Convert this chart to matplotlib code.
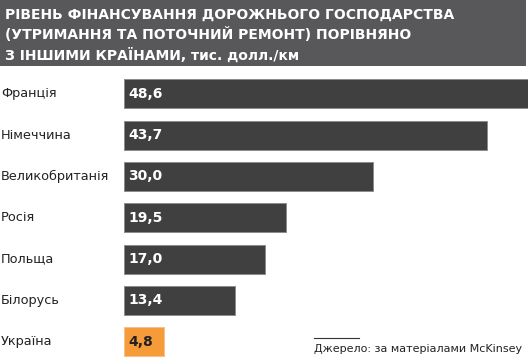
import matplotlib
matplotlib.use("Agg")
import matplotlib.pyplot as plt
from matplotlib.patches import Rectangle
from matplotlib.lines import Line2D
import matplotlib.transforms as mtransforms

countries = ["Франція", "Німеччина", "Великобританія", "Росія", "Польща", "Білорусь", "Україна"]
values = [48.6, 43.7, 30.0, 19.5, 17.0, 13.4, 4.8]
value_labels = ["48,6", "43,7", "30,0", "19,5", "17,0", "13,4", "4,8"]
highlight = "Україна"
title_lines = [
    "РІВЕНЬ ФІНАНСУВАННЯ ДОРОЖНЬОГО ГОСПОДАРСТВА",
    "(УТРИМАННЯ ТА ПОТОЧНИЙ РЕМОНТ) ПОРІВНЯНО",
    "З ІНШИМИ КРАЇНАМИ, тис. долл./км",
]
source = "Джерело: за матеріалами McKinsey"

plt.rcParams['font.family'] = ['DejaVu Sans']

W, H = 528, 361
fig = plt.figure(figsize=(W / 100, H / 100), dpi=100)
fig.patch.set_facecolor("white")

# title box
fig.patches.append(Rectangle((0, 1 - 66 / H), 526 / W, 66 / H, transform=fig.transFigure,
                             facecolor="#58585a", edgecolor="none", zorder=0))
for i, line in enumerate(title_lines):
    fig.text(5 / W, 1 - (19.0 + 20.2 * i) / H, line, color="white", fontsize=10,
             fontweight="bold", va="baseline", ha="left")

# axes
top_px, bot_px = 73.1, 360.4
ax = fig.add_axes([124 / W, 1 - bot_px / H, 404 / W, (bot_px - top_px) / H])
ax.set_xlim(0, 48.6)
ax.set_ylim(6.45, -0.5)
ax.axis("off")

colors = ["#f59b3a" if c == highlight else "#404040" for c in countries]
edges = ["#f8c088" if c == highlight else "#8c8c8c" for c in countries]
ypos = list(range(len(countries)))
ax.barh(ypos, values, height=0.70, color=colors, edgecolor=edges, linewidth=0.7, clip_on=False)

trans = mtransforms.blended_transform_factory(fig.transFigure, ax.transData)
for y, c, v, lab in zip(ypos, countries, values, value_labels):
    ax.text(1 / W, y, c, transform=trans, fontsize=9.3, color="#222222", va="center", ha="left")
    ax.annotate(lab, xy=(0, y), xytext=(3, 0), textcoords="offset points",
                fontsize=10, fontweight="bold", va="center", ha="left",
                color="#222222" if c == highlight else "white")

# source
fig.lines.append(Line2D([314 / W, 359 / W], [1 - 337.7 / H] * 2, transform=fig.transFigure,
                        color="#333333", linewidth=0.8))
fig.text(314 / W, 1 - 352.3 / H, source, fontsize=8, color="#222222", va="baseline", ha="left")

fig.savefig("out.png", dpi=100)
